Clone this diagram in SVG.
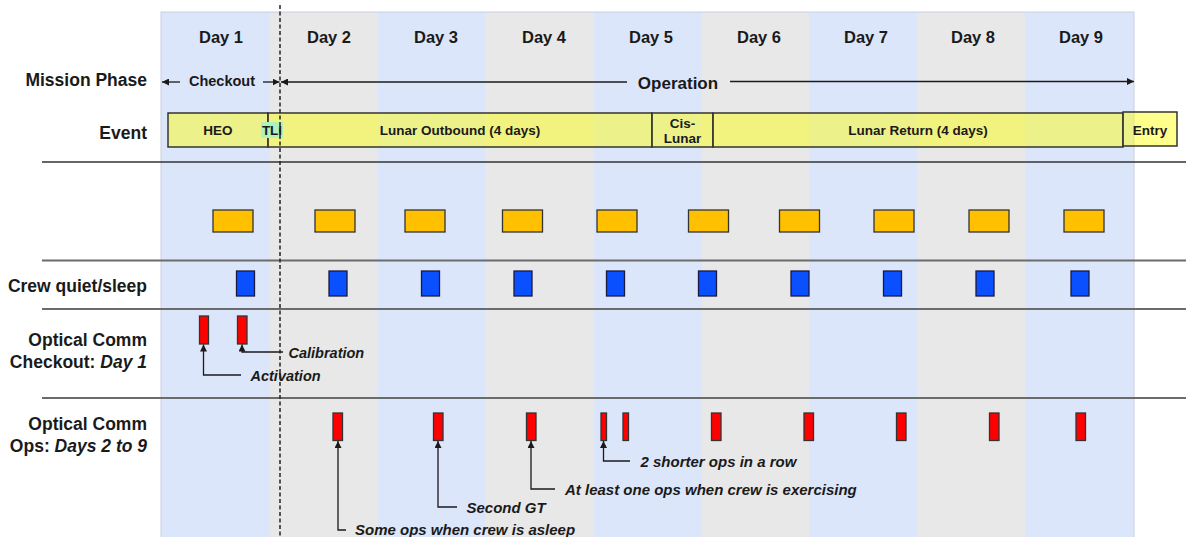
<svg xmlns="http://www.w3.org/2000/svg" width="1186" height="537" viewBox="0 0 1186 537">
<defs>
<style>
text{font-family:"Liberation Sans",Arial,sans-serif;font-weight:bold;fill:#1a1a1a}
.day{font-size:16.5px;text-anchor:middle}
.row{font-size:17.5px;text-anchor:end}
.ev{font-size:13.5px;text-anchor:middle}
.ann{font-size:14.5px;font-style:italic}
.ann2{font-size:15px;font-style:italic}
.bgb{fill:#dce6fb}
.bgg{fill:#e8e8e8}
.evb{fill:#ffff00;fill-opacity:0.45;stroke:#333;stroke-width:1.5}
.gold{fill:#ffc000;stroke:#333;stroke-width:1.3}
.blue{fill:#0b50ff;stroke:#1a1a40;stroke-width:1.3}
.red{fill:#ff0000;stroke:#333;stroke-width:1.3}
.sep{stroke:#6b6b6b;stroke-width:2}
.conn{fill:none;stroke:#1a1a1a;stroke-width:1.3}
</style>
<marker id="ah" viewBox="0 0 10 10" refX="10" refY="5" markerWidth="7" markerHeight="7" markerUnits="userSpaceOnUse" orient="auto">
<path d="M0,0 L10,5 L0,10 z" fill="#1a1a1a"/>
</marker>
</defs>
<rect width="1186" height="537" fill="#fff"/>
<g id="background">
<rect class="bgb" x="161" y="12" width="109" height="525"/>
<rect class="bgg" x="270" y="12" width="108" height="525"/>
<rect class="bgb" x="378" y="12" width="107" height="525"/>
<rect class="bgg" x="485" y="12" width="109" height="525"/>
<rect class="bgb" x="594" y="12" width="108" height="525"/>
<rect class="bgg" x="702" y="12" width="107" height="525"/>
<rect class="bgb" x="809" y="12" width="108" height="525"/>
<rect class="bgg" x="917" y="12" width="108" height="525"/>
<rect class="bgb" x="1025" y="12" width="109" height="525"/>
<rect x="161" y="12" width="973" height="530" fill="none" stroke="#c9d0de" stroke-width="1"/>
</g>
<g id="days">
<text class="day" x="221" y="43">Day 1</text>
<text class="day" x="329" y="43">Day 2</text>
<text class="day" x="436" y="43">Day 3</text>
<text class="day" x="544" y="43">Day 4</text>
<text class="day" x="651" y="43">Day 5</text>
<text class="day" x="759" y="43">Day 6</text>
<text class="day" x="866" y="43">Day 7</text>
<text class="day" x="973" y="43">Day 8</text>
<text class="day" x="1081" y="43">Day 9</text>
</g>
<g id="row-labels">
<text class="row" x="147" y="86">Mission Phase</text>
<text class="row" x="147" y="139">Event</text>
<text class="row" x="147" y="292">Crew quiet/sleep</text>
<text class="row" x="147" y="346">Optical Comm</text>
<text class="row" x="147" y="368">Checkout: <tspan font-style="italic">Day 1</tspan></text>
<text class="row" x="147" y="430">Optical Comm</text>
<text class="row" x="147" y="452">Ops: <tspan font-style="italic">Days 2 to 9</tspan></text>
</g>
<g id="separators">
<line x1="42" y1="162" x2="1186" y2="162" stroke="#333" stroke-width="1.4"/>
<line class="sep" x1="42" y1="260.5" x2="1186" y2="260.5"/>
<line class="sep" x1="42" y1="309" x2="1186" y2="309"/>
<line class="sep" x1="42" y1="398" x2="1186" y2="398"/>
</g>
<g id="phase-checkout">
<text x="222" y="86" font-size="14.5" text-anchor="middle">Checkout</text>
</g>
<g id="phase-operation">
<text x="678" y="88.5" font-size="17" text-anchor="middle">Operation</text>
</g>
<g id="event-heo">
<rect class="evb" x="168" y="113" width="100" height="34"/>
<text class="ev" x="218" y="135">HEO</text>
</g>
<g id="event-outbound">
<rect class="evb" x="268" y="113" width="384" height="34"/>
<text class="ev" x="460" y="135">Lunar Outbound (4 days)</text>
</g>
<g id="event-tli">
<rect x="261" y="122" width="22" height="16" fill="#aef2be"/>
<text class="ev" x="272" y="135">TLI</text>
</g>
<g id="event-cislunar">
<rect class="evb" x="652" y="113" width="61" height="34"/>
<text class="ev" x="682.5" y="127.5">Cis-</text>
<text class="ev" x="682.5" y="143">Lunar</text>
</g>
<g id="event-return">
<rect class="evb" x="713" y="113" width="410" height="34"/>
<text class="ev" x="918" y="135">Lunar Return (4 days)</text>
</g>
<g id="event-entry">
<rect class="evb" x="1123" y="112" width="54" height="34"/>
<text class="ev" x="1150" y="134.5">Entry</text>
</g>
<g id="gold-blocks">
<rect class="gold" x="213" y="210" width="40" height="22"/>
<rect class="gold" x="315" y="210" width="40" height="22"/>
<rect class="gold" x="405" y="210" width="40" height="22"/>
<rect class="gold" x="502.5" y="210" width="40" height="22"/>
<rect class="gold" x="597" y="210" width="40" height="22"/>
<rect class="gold" x="688.5" y="210" width="40" height="22"/>
<rect class="gold" x="779.5" y="210" width="40" height="22"/>
<rect class="gold" x="874" y="210" width="40" height="22"/>
<rect class="gold" x="969" y="210" width="40" height="22"/>
<rect class="gold" x="1064" y="210" width="40" height="22"/>
</g>
<g id="crew-sleep">
<rect class="blue" x="236.5" y="271" width="18" height="25"/>
<rect class="blue" x="329" y="271" width="18" height="25"/>
<rect class="blue" x="421.5" y="271" width="18" height="25"/>
<rect class="blue" x="514" y="271" width="18" height="25"/>
<rect class="blue" x="606.5" y="271" width="18" height="25"/>
<rect class="blue" x="698.5" y="271" width="18" height="25"/>
<rect class="blue" x="791" y="271" width="18" height="25"/>
<rect class="blue" x="883.5" y="271" width="18" height="25"/>
<rect class="blue" x="976" y="271" width="18" height="25"/>
<rect class="blue" x="1071" y="271" width="18" height="25"/>
</g>
<g id="checkout-ops">
<rect class="red" x="199.5" y="316" width="9" height="28"/>
<rect class="red" x="237.5" y="316" width="9.5" height="28"/>
</g>
<g id="ops">
<rect class="red" x="333" y="413" width="9.5" height="27.5"/>
<rect class="red" x="433.5" y="413" width="9.5" height="27.5"/>
<rect class="red" x="526.5" y="413" width="9.5" height="27.5"/>
<rect class="red" x="601" y="413" width="5.5" height="27.5"/>
<rect class="red" x="623" y="413" width="5.5" height="27.5"/>
<rect class="red" x="711.5" y="413" width="9.5" height="27.5"/>
<rect class="red" x="804" y="413" width="9.5" height="27.5"/>
<rect class="red" x="896.5" y="413" width="9.5" height="27.5"/>
<rect class="red" x="989.5" y="413" width="9.5" height="27.5"/>
<rect class="red" x="1076" y="413" width="9.5" height="27.5"/>
</g>
<g id="annotations">
<text class="ann" x="288.5" y="357.5">Calibration</text>
<text class="ann" x="250.5" y="380.5">Activation</text>
<text class="ann2" x="640.5" y="467">2 shorter ops in a row</text>
<text class="ann2" x="565" y="494.5">At least one ops when crew is exercising</text>
<text class="ann2" x="466.5" y="513">Second GT</text>
<text class="ann2" x="355" y="535">Some ops when crew is asleep</text>
</g>
<g id="connectors">
<line class="conn" x1="180" y1="82" x2="162" y2="82" marker-end="url(#ah)"/>
<line class="conn" x1="263" y1="82" x2="279.5" y2="82" marker-end="url(#ah)"/>
<line class="conn" x1="627" y1="82" x2="281" y2="82" marker-end="url(#ah)"/>
<line class="conn" x1="730" y1="81.5" x2="1134" y2="81.5" marker-end="url(#ah)"/>
<path class="conn" d="M241,375 H203.5 V344.5" marker-end="url(#ah)"/>
<path class="conn" d="M283,352 H242 V344.5" marker-end="url(#ah)"/>
<path class="conn" d="M346,530 H338 V441" marker-end="url(#ah)"/>
<path class="conn" d="M457,507 H438 V441" marker-end="url(#ah)"/>
<path class="conn" d="M555,489 H531 V441" marker-end="url(#ah)"/>
<path class="conn" d="M630,461 H603.5 V441" marker-end="url(#ah)"/>
<line x1="280" y1="5" x2="280" y2="537" stroke="#222" stroke-width="1.5" stroke-dasharray="4 2.5"/>
</g>
</svg>
